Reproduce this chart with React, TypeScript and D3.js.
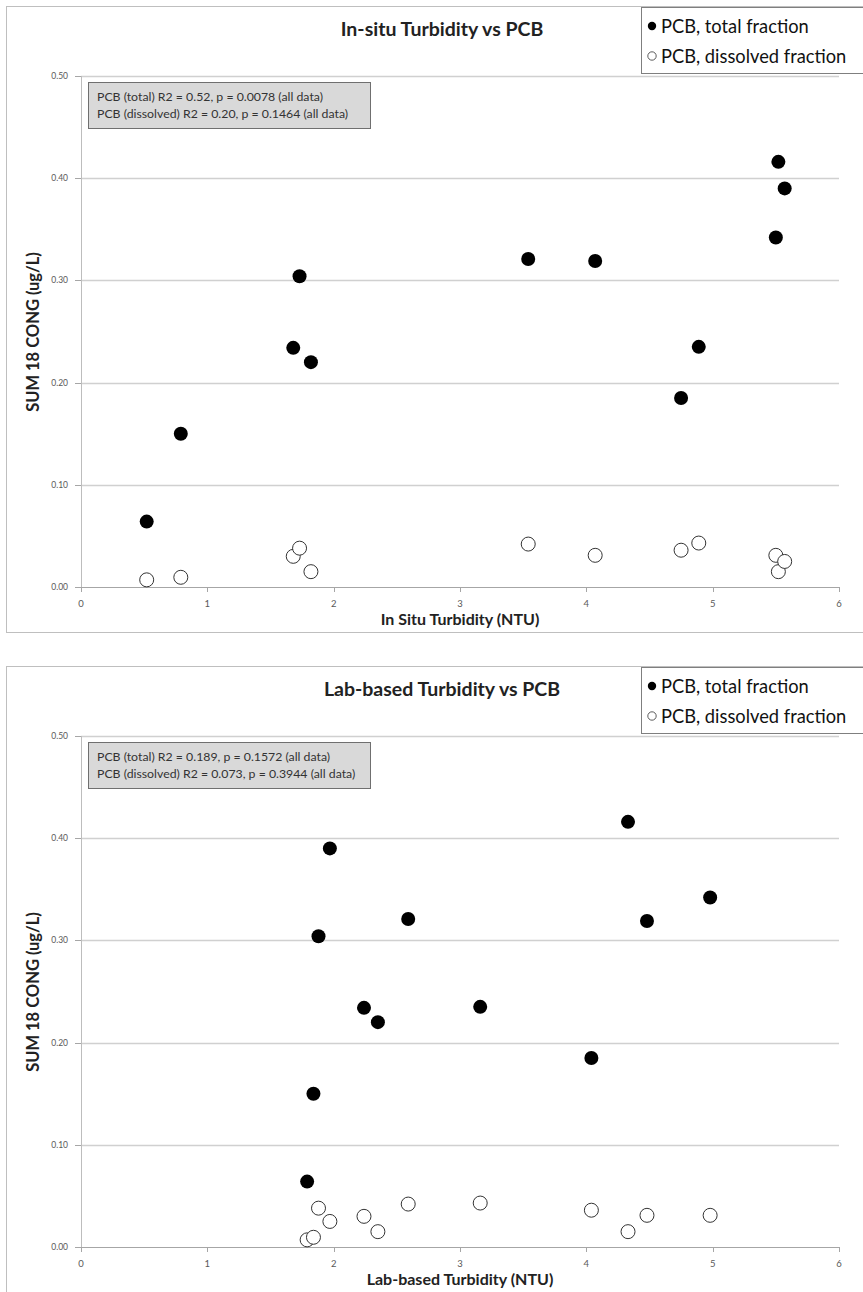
import * as d3 from 'd3'

// one entry per sample, same order in every array
const inSituNtu = [0.52, 0.79, 1.68, 1.73, 1.82, 3.54, 4.07, 4.75, 4.89, 5.5, 5.52, 5.57]
const labNtu = [1.79, 1.84, 2.24, 1.88, 2.35, 2.59, 4.48, 4.04, 3.16, 4.98, 4.33, 1.97]
const pcbTotal = [0.064, 0.15, 0.234, 0.304, 0.22, 0.321, 0.319, 0.185, 0.235, 0.342, 0.416, 0.39]
const pcbDissolved = [0.007, 0.0095, 0.03, 0.038, 0.015, 0.042, 0.031, 0.036, 0.043, 0.031, 0.015, 0.025]

const xTicks = [0, 1, 2, 3, 4, 5, 6]
const yTicks = [0, 0.1, 0.2, 0.3, 0.4, 0.5]

const legendLabels = ['PCB, total fraction', 'PCB, dissolved fraction']
const font = 'Lato, "Open Sans", sans-serif'

type PanelProps = {
  top: number
  title: string
  xTitle: string
  xs: number[]
  stats: string[]
}

function Panel({ top, title, xTitle, xs, stats }: PanelProps) {
  const x = d3.scaleLinear().domain([0, 6]).range([81, 839])
  const y = d3.scaleLinear().domain([0, 0.5]).range([top + 581, top + 70])
  const fmt = d3.format('.2f')

  return (
    <g fontFamily={font}>
      <rect x={6.5} y={top + 0.5} width={870} height={626} fill="#fff" stroke="#bfbfbf" />

      <text x={442} y={top + 30} textAnchor="middle" fontSize={19.5} fontWeight="bold" fill="#222">
        {title}
      </text>

      {yTicks.slice(1).map(t => (
        <line key={t} x1={x(0)} x2={x(6)} y1={Math.round(y(t)) + 0.5} y2={Math.round(y(t)) + 0.5}
          stroke="#d0d0d0" strokeWidth={1.3} />
      ))}
      <line x1={x(0) + 0.5} x2={x(0) + 0.5} y1={y(0.5)} y2={y(0)} stroke="#bdbdbd" />
      <line x1={x(0)} x2={x(6)} y1={Math.round(y(0)) + 0.5} y2={Math.round(y(0)) + 0.5} stroke="#a6a6a6" />

      {yTicks.map(t => (
        <g key={t}>
          <line x1={x(0) - 6} x2={x(0)} y1={Math.round(y(t)) + 0.5} y2={Math.round(y(t)) + 0.5} stroke="#a6a6a6" />
          <text x={x(0) - 13} y={y(t) + 3} textAnchor="end" fontSize={8.5} fill="#595959">{fmt(t)}</text>
        </g>
      ))}
      {xTicks.map(t => (
        <g key={t}>
          <line x1={Math.round(x(t)) + 0.5} x2={Math.round(x(t)) + 0.5} y1={y(0)} y2={y(0) + 5} stroke="#a6a6a6" />
          <text x={x(t)} y={y(0) + 20} textAnchor="middle" fontSize={9.5} fill="#595959">{t}</text>
        </g>
      ))}

      <text x={460} y={top + 619} textAnchor="middle" fontSize={16} fontWeight="bold" fill="#222">
        {xTitle}
      </text>
      <text transform={`translate(39, ${top + 326}) rotate(-90)`} textAnchor="middle" fontSize={16.5}
        fontWeight="bold" fill="#222">
        SUM 18 CONG (ug/L)
      </text>

      <rect x={88.5} y={top + 76.5} width={282} height={46} fill="#d9d9d9" stroke="#6f6f6f" />
      {stats.map((s, i) => (
        <text key={i} x={97} y={top + 95 + i * 17} fontSize={12.3} fill="#333">{s}</text>
      ))}

      {xs.map((v, i) => (
        <circle key={'d' + i} cx={x(v)} cy={y(pcbDissolved[i])} r={7} fill="#fff" stroke="#333" strokeWidth={1} />
      ))}
      {xs.map((v, i) => (
        <circle key={'t' + i} cx={x(v)} cy={y(pcbTotal[i])} r={7} fill="#000" />
      ))}

      <rect x={641.5} y={top + 1.5} width={240} height={66} fill="#fff" stroke="#7f7f7f" />
      <circle cx={652} cy={top + 20} r={4.2} fill="#000" />
      <circle cx={652} cy={top + 50} r={4.2} fill="#fff" stroke="#333" strokeWidth={0.8} />
      {legendLabels.map((l, i) => (
        <text key={l} x={661} y={top + 26.5 + i * 30} fontSize={18.3} fill="#111">{l}</text>
      ))}
    </g>
  )
}

export default function App() {
  return (
    <svg width={863} height={1292} style={{ position: 'absolute', left: 0, top: 0 }}>
      <rect width={863} height={1292} fill="#fff" />
      <Panel
        top={6}
        title="In-situ Turbidity vs PCB"
        xTitle="In Situ Turbidity (NTU)"
        xs={inSituNtu}
        stats={[
          'PCB (total) R2 = 0.52, p = 0.0078 (all data)',
          'PCB (dissolved)  R2 = 0.20, p = 0.1464 (all data)',
        ]}
      />
      <Panel
        top={666}
        title="Lab-based Turbidity vs PCB"
        xTitle="Lab-based Turbidity (NTU)"
        xs={labNtu}
        stats={[
          'PCB (total) R2 = 0.189, p = 0.1572 (all data)',
          'PCB (dissolved)  R2 = 0.073, p = 0.3944 (all data)',
        ]}
      />
    </svg>
  )
}
